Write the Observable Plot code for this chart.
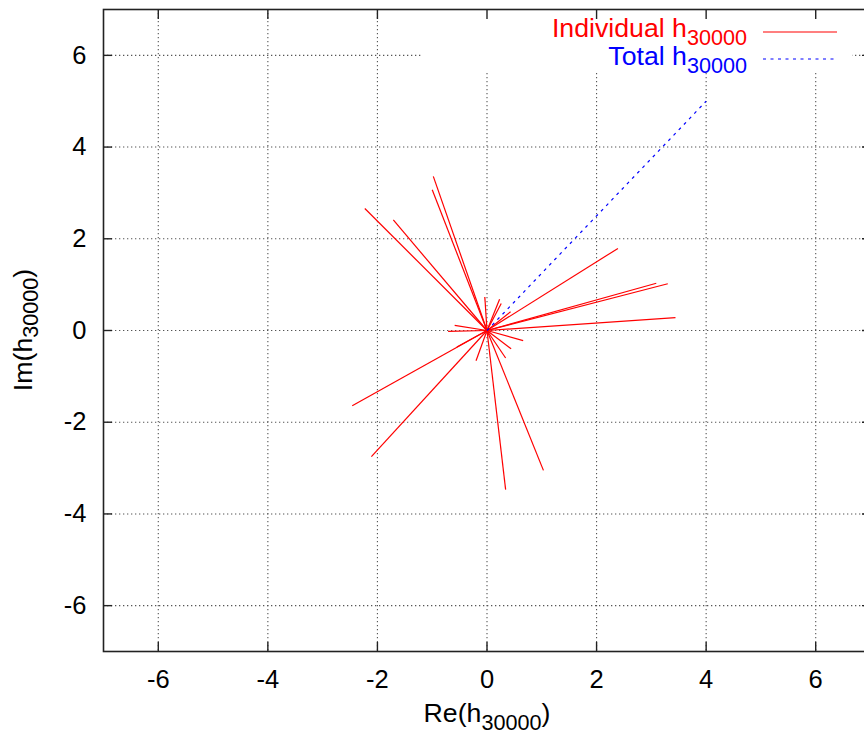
<!DOCTYPE html>
<html><head><meta charset="utf-8">
<script src="https://cdn.jsdelivr.net/npm/d3@7"></script>
<script src="https://cdn.jsdelivr.net/npm/@observablehq/plot@0.6"></script>
<style>
html,body{margin:0;padding:0;background:#fff;overflow:hidden;}
</style></head><body><div id="chart"></div>
<script>
// Individual contributions (Re, Im) and their total
const indRe = [-2.23,-1.71,-0.98,-1.00,2.39,3.09,3.30,3.44,-2.46,-2.11,0.34,1.03,-0.04,0.23,0.26,0.43,-0.59,-0.71,0.66,-0.20,-0.55,0.44,0.34];
const indIm = [2.66,2.41,3.36,3.07,1.79,1.03,1.02,0.28,-1.64,-2.75,-3.47,-3.05,0.73,0.68,0.59,0.41,0.11,-0.02,-0.22,-0.66,-0.36,-0.40,-0.60];
const totRe = [4.0];
const totIm = [5.0];
const xTicks = [-6,-4,-2,0,2,4,6];
const yTicks = [-6,-4,-2,0,2,4,6];
const legendLabels = ["Individual h", "Total h"];
const legendSub = "30000";

const ind = indRe.map((re,i)=>({re, im: indIm[i]}));
const tot = totRe.map((re,i)=>({re, im: totIm[i]}));

const FONT = '"Liberation Sans", Arial, Helvetica, sans-serif';
const fmt = d => String(d);

const plot = Plot.plot({
  width: 864, height: 740,
  marginTop: 9, marginBottom: 89, marginLeft: 103, marginRight: -6,
  style: {fontFamily: FONT, fontSize: "25.5px", background: "#fff", color: "#000"},
  x: {domain: [-7,7], label: null},
  y: {domain: [-7,7], label: null},
  marks: [
    Plot.gridX(xTicks, {stroke: "#555", strokeOpacity: 1, strokeWidth: 1.1, strokeDasharray: "1.3,2.7"}),
    Plot.gridY(yTicks, {stroke: "#555", strokeOpacity: 1, strokeWidth: 1.1, strokeDasharray: "1.3,2.7"}),
    Plot.link(ind, {x1: 0, y1: 0, x2: "re", y2: "im", stroke: "#ff0000", strokeWidth: 1.2}),
    Plot.link(tot, {x1: 0, y1: 0, x2: "re", y2: "im", stroke: "#0000ff", strokeWidth: 1.2, strokeDasharray: "3,4.5"}),
    Plot.frame({stroke: "#222", strokeWidth: 1.6}),
    Plot.axisX(xTicks, {anchor: "bottom", tickSize: 9, dy: -9, fill: "none", stroke: "#222", strokeWidth: 1.4, label: null}),
    Plot.axisX(xTicks, {anchor: "top", tickSize: 9, dy: 9, fill: "none", stroke: "#222", strokeWidth: 1.4, label: null}),
    Plot.axisY(yTicks, {anchor: "left", tickSize: 9, dx: 9, fill: "none", stroke: "#222", strokeWidth: 1.4, label: null}),
    Plot.axisY(yTicks, {anchor: "right", tickSize: 9, dx: -9, fill: "none", stroke: "#222", strokeWidth: 1.4, label: null}),
    Plot.axisX(xTicks, {anchor: "bottom", tickSize: 0, tickPadding: 18, tickFormat: fmt, label: null, fill: "#000"}),
    Plot.axisY(yTicks, {anchor: "left", tickSize: 0, tickPadding: 17, tickFormat: fmt, label: null, fill: "#000"})
  ]
});
document.getElementById("chart").appendChild(plot);

const svg = d3.select(plot);
// key box background (hides grid behind the key)
const grids = plot.querySelectorAll('[aria-label$="grid"]');
const keyBox = document.createElementNS("http://www.w3.org/2000/svg", "rect");
keyBox.setAttribute("x", 423); keyBox.setAttribute("y", 10);
keyBox.setAttribute("width", 429); keyBox.setAttribute("height", 62);
keyBox.setAttribute("fill", "#fff");
if (grids.length) grids[grids.length-1].after(keyBox); else plot.insertBefore(keyBox, plot.firstChild);

function subText(x, y, main, sub, tail, color, anchor, transform, subDy) {
  const t = svg.append("text")
    .attr("x", x).attr("y", y)
    .attr("fill", color)
    .attr("text-anchor", anchor)
    .style("font-family", FONT).style("font-size", "26.7px");
  if (transform) t.attr("transform", transform);
  t.append("tspan").text(main);
  t.append("tspan").attr("dy", subDy).style("font-size", "21.6px").text(sub);
  if (tail) t.append("tspan").attr("dy", -subDy).text(tail);
  return t;
}

// legend
subText(747, 37, legendLabels[0], legendSub, "", "#ff0000", "end", null, 8);
subText(747, 65, legendLabels[1], legendSub, "", "#0000ff", "end", null, 8);
svg.append("line").attr("x1", 763).attr("x2", 837).attr("y1", 32).attr("y2", 32)
  .attr("stroke", "#ff0000").attr("stroke-width", 1.2);
svg.append("line").attr("x1", 763).attr("x2", 834).attr("y1", 59).attr("y2", 59)
  .attr("stroke", "#0000ff").attr("stroke-width", 1.2).attr("stroke-dasharray", "3,4.5");

// axis labels
subText(487, 722, "Re(h", legendSub, ")", "#000", "middle", null, 8);
subText(0, 0, "Im(h", legendSub, ")", "#000", "middle", "translate(32,330) rotate(-90)", 6);
</script></body></html>
